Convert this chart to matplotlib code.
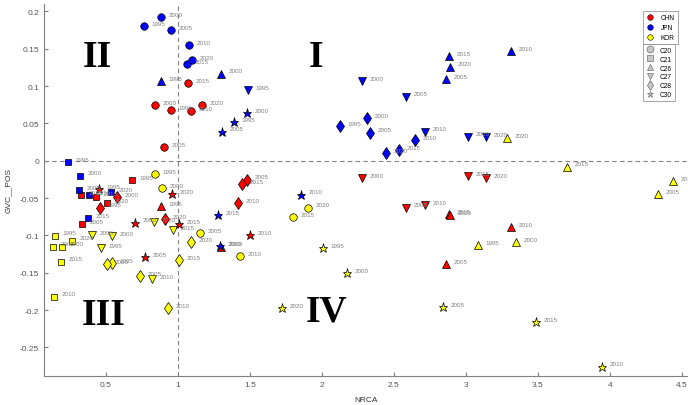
import matplotlib
matplotlib.use('Agg')
import matplotlib.pyplot as plt
from matplotlib.lines import Line2D
from matplotlib.ticker import FuncFormatter

plt.rcParams['font.family'] = ['Liberation Sans', 'DejaVu Sans']

# ---------------- data ----------------
countries = ['CHN', 'JPN', 'KOR']
country_colors = ['#FF0000', '#0000FF', '#FFFF00']
sectors = ['C20', 'C21', 'C26', 'C27', 'C28', 'C30']
sector_markers = ['o', 's', '^', 'v', 'd', '*']
YEARS = [1995, 2000, 2005, 2010, 2015, 2020]

# CHN
chn_c20_x = [0.954, 0.840, 0.903, 1.090, 1.067, 1.169]
chn_c20_y = [0.0675, 0.0747, 0.0184, 0.0662, 0.1037, 0.0747]
chn_c21_years = [1995, 2005, 2010, 2015, 2020]
chn_c21_x = [0.678, 0.333, 0.324, 0.428, 0.505]
chn_c21_y = [-0.026, -0.085, -0.046, -0.048, -0.057]
chn_c26_x = [0.880, 1.299, 2.861, 3.313, 2.882, 2.886]
chn_c26_y = [-0.061, -0.115, -0.1385, -0.0885, -0.0715, -0.073]
chn_c27_years = [2000, 2005, 2010, 2015, 2020]
chn_c27_x = [2.280, 2.581, 2.715, 3.016, 3.137]
chn_c27_y = [-0.0236, -0.063, -0.0594, -0.0209, -0.0236]
chn_c28_x = [0.456, 0.574, 1.481, 1.419, 1.447, 0.907]
chn_c28_y = [-0.063, -0.049, -0.0255, -0.057, -0.031, -0.078]
chn_c30_x = [0.454, 0.699, 0.771, 1.500, 1.005, 0.958]
chn_c30_y = [-0.038, -0.083, -0.129, -0.0996, -0.085, -0.045]

# JPN
jpn_c20_x = [0.766, 0.884, 0.954, 1.076, 1.060, 1.099]
jpn_c20_y = [0.180, 0.192, 0.175, 0.155, 0.129, 0.135]
jpn_c21_x = [0.238, 0.319, 0.315, 0.384, 0.377, 0.535]
jpn_c21_y = [-0.002, -0.020, -0.039, -0.046, -0.077, -0.042]
jpn_c26_x = [0.880, 1.301, 2.861, 3.313, 2.880, 2.887]
jpn_c26_y = [0.1064, 0.1166, 0.109, 0.147, 0.140, 0.126]
jpn_c27_x = [1.484, 2.280, 2.581, 2.715, 3.016, 3.137]
jpn_c27_y = [0.0948, 0.107, 0.0858, 0.0389, 0.0322, 0.0314]
jpn_c28_x = [2.125, 2.315, 2.336, 2.646, 2.537, 2.444]
jpn_c28_y = [0.0461, 0.0572, 0.0375, 0.0277, 0.0143, 0.0103]
jpn_c30_x = [1.391, 1.477, 1.306, 1.854, 1.280, 1.292]
jpn_c30_y = [0.0519, 0.0639, 0.0389, -0.0456, -0.0724, -0.114]

# KOR
kor_c20_x = [0.843, 0.891, 1.153, 1.431, 1.801, 1.905]
kor_c20_y = [-0.018, -0.037, -0.097, -0.128, -0.076, -0.063]
kor_c21_x = [0.148, 0.197, 0.130, 0.139, 0.185, 0.262]
kor_c21_y = [-0.1005, -0.115, -0.115, -0.182, -0.135, -0.107]
kor_c26_x = [3.083, 3.345, 4.335, 4.440, 3.699, 3.285]
kor_c26_y = [-0.1126, -0.1094, -0.045, -0.0276, -0.008, 0.030]
kor_c27_x = [0.465, 0.540, 0.405, 0.817, 0.963, 0.836]
kor_c27_y = [-0.117, -0.101, -0.0996, -0.1586, -0.0925, -0.082]
kor_c28_x = [0.539, 0.505, 0.736, 0.933, 1.007, 1.088]
kor_c28_y = [-0.137, -0.139, -0.155, -0.1975, -0.133, -0.109]
kor_c30_x = [2.009, 2.171, 2.843, 3.942, 3.486, 1.720]
kor_c30_y = [-0.1175, -0.1505, -0.1957, -0.276, -0.2166, -0.1975]

quadrant_labels = ['I', 'II', 'III', 'IV']
quadrant_x = [1.956, 0.44, 0.486, 2.03]
quadrant_y = [0.140, 0.140, -0.2055, -0.201]

series = [
    ('CHN', 'C20', YEARS, chn_c20_x, chn_c20_y),
    ('JPN', 'C20', YEARS, jpn_c20_x, jpn_c20_y),
    ('KOR', 'C20', YEARS, kor_c20_x, kor_c20_y),
    ('CHN', 'C21', chn_c21_years, chn_c21_x, chn_c21_y),
    ('JPN', 'C21', YEARS, jpn_c21_x, jpn_c21_y),
    ('KOR', 'C21', YEARS, kor_c21_x, kor_c21_y),
    ('CHN', 'C26', YEARS, chn_c26_x, chn_c26_y),
    ('JPN', 'C26', YEARS, jpn_c26_x, jpn_c26_y),
    ('KOR', 'C26', YEARS, kor_c26_x, kor_c26_y),
    ('CHN', 'C27', chn_c27_years, chn_c27_x, chn_c27_y),
    ('JPN', 'C27', YEARS, jpn_c27_x, jpn_c27_y),
    ('KOR', 'C27', YEARS, kor_c27_x, kor_c27_y),
    ('CHN', 'C28', YEARS, chn_c28_x, chn_c28_y),
    ('JPN', 'C28', YEARS, jpn_c28_x, jpn_c28_y),
    ('KOR', 'C28', YEARS, kor_c28_x, kor_c28_y),
    ('CHN', 'C30', YEARS, chn_c30_x, chn_c30_y),
    ('JPN', 'C30', YEARS, jpn_c30_x, jpn_c30_y),
    ('KOR', 'C30', YEARS, kor_c30_x, kor_c30_y),
]

# ---------------- figure ----------------
W, H = 688, 406
fig = plt.figure(figsize=(W / 100, H / 100), dpi=100)
ax = fig.add_axes([44 / W, 1 - 376.7 / H, (W - 44) / W, (376.7 - 5) / H])
ax.set_xlim(0.07, 4.542)
ax.set_ylim(-0.288, 0.21)

gray = '#808080'
ax.axvline(1, color=gray, ls=(0, (4, 3)), lw=0.8, zorder=1)
ax.axhline(0, color=gray, ls=(0, (4, 3)), lw=0.8, zorder=1)

msize = {'o': 5.4, 's': 4.7, '^': 5.8, 'v': 5.8, 'd': 6.5, '*': 6.8}
for cty, sec, yrs, xs, ys in series:
    col = country_colors[countries.index(cty)]
    mk = sector_markers[sectors.index(sec)]
    ax.plot(xs, ys, ls='none', marker=mk, ms=msize[mk], mfc=col,
            mec='black', mew=0.5, zorder=3)
    for yr, x, y in zip(yrs, xs, ys):
        ax.annotate(str(yr), (x, y), xytext=(5.5, 2), textcoords='offset points',
                    fontsize=4.5, color=gray, ha='left', va='center', zorder=4)

for lab, qx, qy in zip(quadrant_labels, quadrant_x, quadrant_y):
    ax.text(qx, qy, lab, fontsize=27, fontweight='bold', family='Liberation Serif',
            ha='center', va='center', color='black')

for s in ['top', 'right']:
    ax.spines[s].set_visible(False)
for s in ['left', 'bottom']:
    ax.spines[s].set_color(gray)
    ax.spines[s].set_linewidth(0.8)

ax.set_xticks([0.5, 1, 1.5, 2, 2.5, 3, 3.5, 4, 4.5])
ax.set_yticks([-0.25, -0.2, -0.15, -0.1, -0.05, 0, 0.05, 0.1, 0.15, 0.2])
fmt = FuncFormatter(lambda v, p: f'{v:g}')
ax.xaxis.set_major_formatter(fmt)
ax.yaxis.set_major_formatter(fmt)
ax.tick_params(direction='in', length=3, width=0.8, color=gray,
               labelsize=6, labelcolor='#555555')

ax.set_xlabel('NRCA', fontsize=6, color='#333333', labelpad=6)
ax.set_ylabel('GVC__POS', fontsize=6, color='#333333', labelpad=6)

# legends
h1 = [Line2D([], [], ls='none', marker='o', ms=4, mfc=c, mec='black', mew=0.4)
      for c in country_colors]
leg1 = fig.legend(h1, countries, loc='upper left', bbox_to_anchor=(643 / W, 1 - 12 / H),
                  fontsize=4.7, frameon=True, fancybox=False, edgecolor=gray,
                  borderpad=0.5, labelspacing=0.45, handlelength=1.2,
                  handletextpad=1.0, borderaxespad=0)
leg1.get_frame().set_linewidth(0.6)
h2 = [Line2D([], [], ls='none', marker=m, ms=5, mfc='#c8c8c8', mec='#707070', mew=0.5)
      for m in sector_markers]
leg2 = fig.legend(h2, sectors, loc='upper left', bbox_to_anchor=(643 / W, 1 - 45 / H),
                  fontsize=4.7, frameon=True, fancybox=False, edgecolor=gray,
                  borderpad=0.4, labelspacing=0.3, handlelength=1.2,
                  handletextpad=1.0, borderaxespad=0)
leg2.get_frame().set_linewidth(0.6)

fig.savefig('out.png', dpi=100)
